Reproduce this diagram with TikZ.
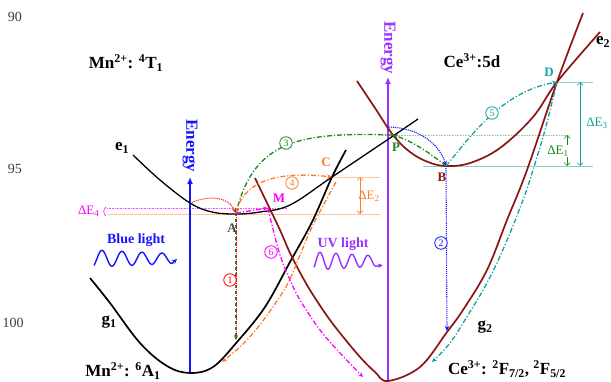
\documentclass[tikz,border=0pt]{standalone}
\usepackage{fontspec}
\setmainfont{Liberation Serif}
\usetikzlibrary{arrows.meta}
\definecolor{mnblue}{RGB}{20,20,255}
\definecolor{uvpurple}{RGB}{155,48,255}
\definecolor{brn}{RGB}{140,20,20}
\definecolor{grn}{RGB}{30,135,30}
\definecolor{org}{RGB}{255,125,40}
\definecolor{tl}{RGB}{20,160,160}
\definecolor{mag}{RGB}{255,0,255}
\definecolor{lnum}{RGB}{60,60,60}
\definecolor{lbla}{RGB}{70,70,70}
\begin{document}
\begin{tikzpicture}[x=1pt,y=-1pt,
  title/.style={font=\fontsize{17}{20}\selectfont\bfseries},
  ptlbl/.style={font=\fontsize{13}{15}\selectfont\bfseries},
  delbl/.style={font=\fontsize{13}{15}\selectfont},
  linenum/.style={font=\fontsize{14}{16}\selectfont, text=lnum},
  circ/.style={circle, draw=#1, text=#1, fill=white, line width=0.8pt, inner sep=0pt, minimum size=12.5pt, font=\fontsize{10}{10}\selectfont},
  blkcurve/.style={line width=1.7pt, black},
  brncurve/.style={line width=1.7pt, brn},
  dashdot/.style={line width=1.3pt, dash pattern=on 5pt off 2pt on 1.2pt off 2pt},
  tip/.style={-{Stealth[length=5pt,width=4.5pt]}},
  dtip/.style={{Straight Barb[length=3pt]}-{Straight Barb[length=3pt]}, line width=0.6pt},
  refline/.style={line width=0.6pt}
]
\useasboundingbox (0,0) rectangle (611,381);

% line numbers
\node[linenum] (n90) at (15,17) {90};
\node[linenum] (n95) at (15,169) {95};
\node[linenum] (n100) at (13,323) {100};

% key points
\coordinate (A) at (236,213);
\coordinate (M) at (268,208);
\coordinate (C) at (332,177);
\coordinate (P) at (393,135);
\coordinate (B) at (446,166);
\coordinate (D) at (557,82);

% reference lines
\coordinate (e4l) at (107,214);
\coordinate (e4r) at (380,214);
\coordinate (m4l) at (107,208);
\coordinate (m4r) at (287,208);
\coordinate (c2r) at (380,177);
\coordinate (p1l) at (383,135);
\coordinate (p1r) at (570,135);
\coordinate (b1l) at (423,166);
\coordinate (b1r) at (593,166);
\coordinate (d3r) at (593,82);
\draw[refline, org!45] (e4l) -- (e4r);
\draw[refline, mag!70, densely dotted] (m4l) -- (m4r);
\draw[refline, org!45] (C) -- (c2r);
\draw[refline, grn!45, densely dotted] (p1l) -- (p1r);
\draw[refline, tl!50] (b1l) -- (b1r);
\draw[refline, tl!50] (D) -- (d3r);

% energy axes
\coordinate (bAxBot) at (190,373);
\coordinate (bAxTop) at (190,177);
\coordinate (pAxBot) at (388,381);
\coordinate (pAxTop) at (388,77);
\draw[mnblue, line width=2pt, -{Latex[length=7pt,width=6pt]}] (bAxBot) -- (bAxTop);
\draw[uvpurple, line width=2pt, -{Latex[length=7pt,width=6pt]}] (pAxBot) -- (pAxTop);
\node[title, text=mnblue, rotate=-90] (enB) at (190,146) {Energy};
\node[title, text=uvpurple, rotate=-90] (enP) at (388,48) {Energy};

% potential curves
\draw[blkcurve] plot[smooth, tension=0.6] coordinates {(90,278) (110,303) (140,343) (167,366) (190,373) (213,367) (237,342) (265,307) (290,262) (312,222) (332,177) (346,150)};
\draw[line width=1.3pt, black] plot[smooth, tension=0.6] coordinates {(133,155) (160,180) (190,203) (212,212) (236,214) (260,212) (290,205) (332,177) (393,136) (418,119)};
\draw[brncurve] plot[smooth, tension=0.6] coordinates {(357,81) (375,108) (393,135) (410,152) (428,162) (446,166) (470,163) (500,148) (533,117) (557,82) (600,32)};
\draw[brncurve] plot[smooth, tension=0.6] coordinates {(255,178) (268,205) (280,230) (291,255) (307,285) (325,313) (340,333) (360,357) (375,372) (388,381) (420,367) (447,332) (463,310) (487,270) (507,220) (527,170) (557,82) (583,13)};

% curve labels
\node[title] (e1) at (122,148) {e\textsubscript{1}};
\node[title, anchor=west, inner sep=0pt] (e2) at (596,42) {e\textsubscript{2}};
\node[title] (g1) at (109,322) {g\textsubscript{1}};
\node[title] (g2) at (485,327) {g\textsubscript{2}};
\node[title] (t1) at (126,63) {Mn\textsuperscript{2+}: \textsuperscript{4}T\textsubscript{1}};
\node[title] (t2) at (472,61) {Ce\textsuperscript{3+}:5d};
\node[title] (t3) at (123,371) {Mn\textsuperscript{2+}: \textsuperscript{6}A\textsubscript{1}};
\node[title] (t4) at (507,369) {Ce\textsuperscript{3+}: \textsuperscript{2}F\textsubscript{7/2}, \textsuperscript{2}F\textsubscript{5/2}};

% light waves
\node[font=\fontsize{14}{16}\selectfont\bfseries, text=mnblue] (bl) at (136,240) {Blue light};
\node[font=\fontsize{14}{16}\selectfont\bfseries, text=uvpurple] (uv) at (343,244) {UV light};
\draw[mnblue, line width=1.4pt, tip] plot[domain=94:172, samples=120, smooth] (\x, {258.5-(8.5-0.045*(\x-94))*sin(18*(\x-97))}) -- (177,259);
\draw[uvpurple, line width=1.4pt, tip] plot[domain=314:376, samples=120, smooth] (\x, {261-(9-0.06*(\x-314))*sin(22.5*(\x-316))}) -- (383,265);

% red relaxation to A
\coordinate (eb) at (190,203);
\draw[red, line width=1pt, densely dotted, tip] (eb) .. controls (212,194) and (229,198) .. (A);

% (1) emission
\coordinate (A1) at (236,340);
\draw[grn, line width=1.3pt, dashed, tip] (A) -- (A1);
\draw[red, line width=0.9pt, densely dotted] (A) -- (A1);
\node[circ=red] (c1) at (230,280) {1};

% (2) blue
\coordinate (pb) at (389,127);
\coordinate (B2) at (447,331);
\draw[mnblue, line width=1.1pt, densely dotted, tip] (pb) .. controls (420,128) and (440,145) .. (B);
\draw[mnblue, line width=1.1pt, densely dotted, tip] (B) -- (B2);
\node[circ=mnblue] (c2) at (441,243) {2};

% green B -> P and (3) P -> A
\draw[grn, dashdot, tip] (B) .. controls (430,153) and (412,141) .. (P);
\draw[grn, dashdot, tip] (P) .. controls (300,132) and (255,140) .. (A);
\node[circ=grn] (c3) at (286,143) {3};

% (4) A -> C and down along g1
\draw[org, dashdot, tip] (A) .. controls (242,185) and (270,170) .. (C);
\node[circ=org] (c4) at (292,183) {4};
\draw[org, dashdot, tip] plot[smooth, tension=0.6] coordinates {(336,182) (313,225) (300,255) (287,285) (265,318) (245,342) (222,362)};

% (5) B -> D and down along g2
\draw[tl, dashdot, tip] (B) .. controls (468,140) and (500,92) .. (D);
\node[circ=tl] (c5) at (492,113) {5};
\draw[tl, dashdot, tip] plot[smooth, tension=0.6] coordinates {(557,82) (545,130) (533,170) (523,200) (505,245) (487,283) (468,315) (450,343) (432,362)};

% (6) A -> M and down along g2
\draw[mag, dashdot, tip] (A) -- (M);
\draw[mag, dashdot, tip] plot[smooth, tension=0.6] coordinates {(268,208) (272,225) (280,255) (290,280) (300,300) (320,330) (340,353) (363,377)};
\node[circ=mag] (c6) at (271,252) {6};

% point labels
\node[ptlbl, text=lbla] (Al) at (232,228) {A};
\node[ptlbl, text=mag] (Ml) at (279,198) {M};
\node[ptlbl, text=org] (Cl) at (326,162) {C};
\node[ptlbl, text=grn] (Pl) at (396,147) {P};
\node[ptlbl, text=brn] (Bl) at (442,177) {B};
\node[ptlbl, text=tl] (Dl) at (549,72) {D};

% energy gaps
\coordinate (de1t) at (567,135);
\coordinate (de1b) at (567,166);
\draw[grn, dtip] (de1t) -- (de1b);
\node[delbl, text=grn, fill=white, inner sep=0.5pt] (de1) at (558,151) {ΔE\textsubscript{1}};
\coordinate (de3t) at (580,82);
\coordinate (de3b) at (580,166);
\draw[tl, dtip] (de3t) -- (de3b);
\node[delbl, text=tl] (de3) at (597,123) {ΔE\textsubscript{3}};
\coordinate (de2t) at (360,177);
\coordinate (de2b) at (360,214);
\draw[org, dtip] (de2t) -- (de2b);
\node[delbl, text=org] (de2) at (369,196) {ΔE\textsubscript{2}};
\node[delbl, text=mag, anchor=east] (de4) at (103,211) {ΔE\textsubscript{4}};
\coordinate (br1) at (106,207);
\coordinate (br2) at (106,216);
\draw[mag, line width=0.6pt] (br1) .. controls (103,209) and (103,214) .. (br2);
\end{tikzpicture}
\end{document}
